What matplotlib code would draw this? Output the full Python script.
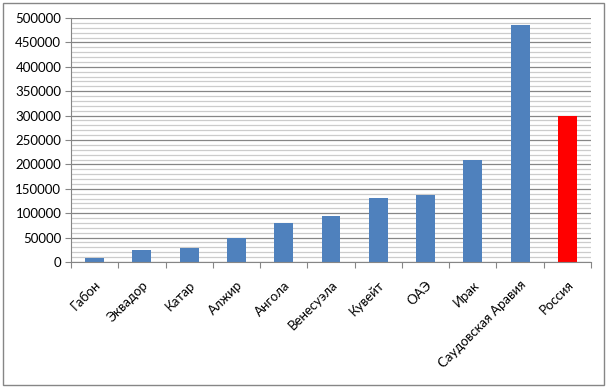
"""
Oil reserves / output by country — bar chart, Russia highlighted in red.
"""

import matplotlib
matplotlib.use("Agg")
import matplotlib.pyplot as plt
from matplotlib.patches import Rectangle
from matplotlib.ticker import MultipleLocator

# ---------------------------------------------------------------------------
#  Data
# ---------------------------------------------------------------------------

countries = ["Габон", "Эквадор", "Катар", "Алжир", "Ангола", "Венесуэла",
             "Кувейт", "ОАЭ", "Ирак", "Саудовская Аравия", "Россия"]
values = [9000, 25000, 29500, 50000, 80000, 93500,
          131000, 137500, 209000, 486000, 300000]
highlight = "Россия"

y_max = 500000
y_major = 50000
y_minor = 10000

# ---------------------------------------------------------------------------
#  Figure
# ---------------------------------------------------------------------------

plt.rcParams["font.family"] = ["Lato", "DejaVu Sans"]

fig = plt.figure(figsize=(6.09, 3.89), dpi=100)
ax = fig.add_axes([71 / 609, 1 - 262 / 389, 520 / 609, 244 / 389])

colors = ["#FF0000" if c == highlight else "#4F81BD" for c in countries]
x = list(range(len(countries)))
ax.bar(x, values, width=0.4, color=colors, zorder=3)

ax.set_xlim(-0.5, len(countries) - 0.5)
ax.set_ylim(0, y_max)

# gridlines: dark major, light minor
ax.yaxis.set_major_locator(MultipleLocator(y_major))
ax.yaxis.set_minor_locator(MultipleLocator(y_minor))
ax.grid(axis="y", which="major", color="#868686", lw=0.9, zorder=1)
ax.grid(axis="y", which="minor", color="#cccccc", lw=0.9, zorder=1)
ax.tick_params(axis="y", which="minor", length=0)
ax.tick_params(axis="y", which="major", length=4, color="#868686",
               labelsize=9.5, pad=3)

# category ticks sit on the boundaries between bars
ax.set_xticks([i - 0.5 for i in range(len(countries) + 1)], minor=False)
ax.set_xticklabels([])
ax.set_xticks(x, minor=True)
ax.set_xticklabels(countries, minor=True, rotation=45, ha="right",
                   rotation_mode="anchor", fontsize=9.5)
ax.tick_params(axis="x", which="major", length=4, color="#868686")
ax.tick_params(axis="x", which="minor", length=0, pad=12)

for side in ("top", "right"):
    ax.spines[side].set_visible(False)
for side in ("left", "bottom"):
    ax.spines[side].set_color("#868686")
    ax.spines[side].set_zorder(4)

# outer chart border
fig.patches.append(Rectangle((3 / 609, 4 / 389), 601 / 609, 382 / 389,
                             transform=fig.transFigure, fill=False,
                             edgecolor="#868686", lw=1.0))

fig.savefig("out.png", dpi=100)
